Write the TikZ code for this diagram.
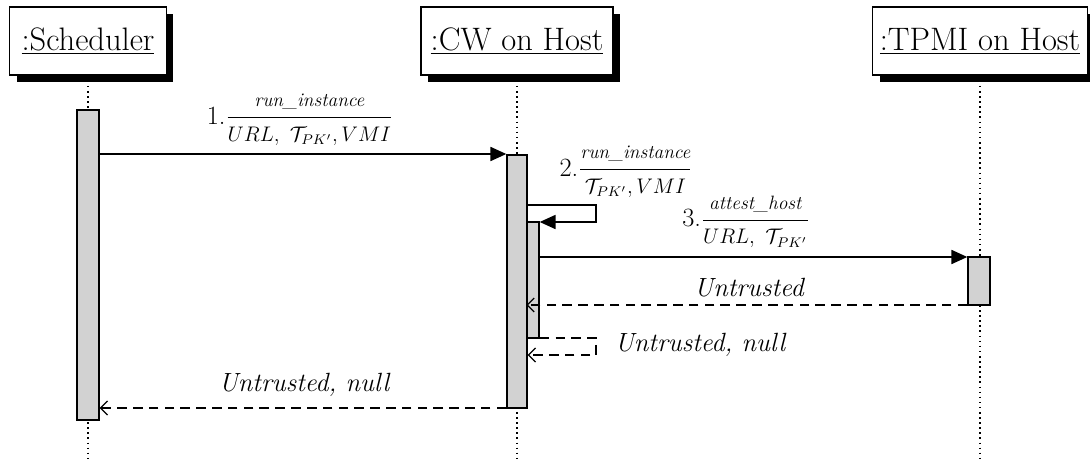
\documentclass[tikz,border=0pt]{standalone}
\usepackage{fontspec}
\usetikzlibrary{arrows.meta,shadows}
\newcommand{\numr}[1]{\mbox{\fontsize{11}{13}\selectfont\itshape #1}}
\newcommand{\denr}[1]{\mbox{\fontsize{12}{14}\selectfont$#1$}}
\begin{document}
\begin{tikzpicture}[x=0.02cm,y=-0.02cm,
  obj/.style={draw, fill=white, line width=0.8pt, minimum height=1.36cm, inner sep=0pt,
    font=\fontsize{18.5}{21}\selectfont,
    drop shadow={shadow xshift=0.14cm, shadow yshift=-0.14cm, fill=black, opacity=1}},
  act/.style={draw, fill=gray!35, line width=0.8pt, inner sep=0pt},
  life/.style={dotted, line width=0.9pt},
  call/.style={-{Triangle[length=9pt,width=8pt]}, line width=0.8pt},
  ret/.style={dash pattern=on 5.5pt off 3.5pt, -{Straight Barb[length=4pt,width=8pt]}, line width=0.7pt},
  selfline/.style={line width=0.8pt},
  msg/.style={font=\fontsize{15}{18}\selectfont, inner sep=1pt},
  rlab/.style={font=\fontsize{15}{18}\selectfont\itshape, inner sep=1pt}]
\useasboundingbox (0,0) rectangle (1090,460);

% objects
\node[obj, minimum width=3.14cm] (sch) at (88,41) {\underline{:Scheduler}};
\node[obj, minimum width=3.84cm] (cw) at (517,41) {\underline{:CW on Host}};
\node[obj, minimum width=4.3cm] (tp) at (980,41) {\underline{:TPMI on Host}};

% lifelines
\coordinate (sEnd) at (88,460);
\coordinate (cEnd) at (517,460);
\coordinate (tEnd) at (980,460);
\draw[life] (sch.south) -- (sEnd);
\draw[life] (cw.south) -- (cEnd);
\draw[life] (tp.south) -- (tEnd);

% activations
\node[act, minimum width=0.44cm, minimum height=6.2cm] (aS) at (88,265) {};
\node[act, minimum width=0.4cm, minimum height=5.06cm] (aC) at (517,281.5) {};
\node[act, minimum width=0.24cm, minimum height=2.32cm] (aC2) at (533,280) {};
\node[act, minimum width=0.44cm, minimum height=0.96cm] (aT) at (979,281) {};

% messages
\draw[call] (aS.east |- 0,154) -- (aC.west |- 0,154);
\node[msg] (l1) at (300,120) {1.$\displaystyle\frac{\numr{run\_instance}}{\denr{URL,\ \mathcal{T}_{PK'},VMI}}$};

\draw[selfline, -{Triangle[length=9pt,width=8pt]}] (aC.east |- 0,205) -- (596,205) -- (596,222) -- (aC2.east |- 0,222);
\node[msg] (l2) at (626,172) {2.$\displaystyle\frac{\numr{run\_instance}}{\denr{\mathcal{T}_{PK'},VMI}}$};

\draw[call] (aC2.east |- 0,257) -- (aT.west |- 0,257);
\node[msg] (l3) at (746,222) {3.$\displaystyle\frac{\numr{attest\_host}}{\denr{URL,\ \mathcal{T}_{PK'}}}$};

\draw[ret] (aT.west |- 0,305) -- (aC2.west |- 0,305);
\node[rlab] (l4) at (749,288) {Untrusted};

\draw[ret] (aC2.east |- 0,338) -- (596,338) -- (596,355) -- (aC.east |- 0,355);
\node[rlab] (l5) at (700,345) {Untrusted, null};

\draw[ret] (aC.west |- 0,408) -- (aS.east |- 0,408);
\node[rlab] (l6) at (304,385) {Untrusted, null};
\end{tikzpicture}
\end{document}
